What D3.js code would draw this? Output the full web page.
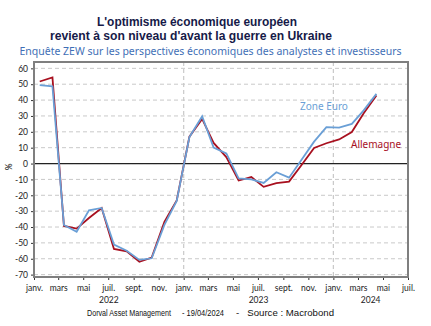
<!DOCTYPE html>
<html>
  <head>
    <meta charset="utf-8">
    <title>ZEW sentiment</title>
    <script src="https://d3js.org/d3.v7.min.js"></script>
    <style>
      body { margin: 0; background: #fff; }
      .axis text { font-family: Lato, "Open Sans", sans-serif; font-size: 8.5px; fill: #222; }
      .title { font-family: "Liberation Sans", Arial, sans-serif; font-weight: bold; font-size: 13.5px; fill: #161a48; }
      .subtitle { font-family: "Noto Sans", sans-serif; font-size: 10px; fill: #3f6fb6; }
      .foot { font-family: "Liberation Sans Narrow", "Arial Narrow", sans-serif; font-size: 8.5px; fill: #111; }
      .lbl { font-family: "Noto Sans", sans-serif; font-size: 10px; }
    </style>
  </head>
  <body>
    <svg width="431" height="326"></svg>
    <script>
      // monthly ZEW economic sentiment, janv. 2022 -> avr. 2024
      var months = d3.range(28).map(function(i) { return new Date(2022, i, 15); });
      var allemagne = [51.7, 54.3, -39.3, -41.0, -34.3, -28.0, -53.8, -55.3, -61.9, -59.2, -36.7, -23.3,
                       16.9, 28.1, 13.0, 4.1, -10.7, -8.5, -14.7, -12.3, -11.4, -1.1, 9.8, 12.8,
                       15.2, 19.9, 31.7, 42.9];
      var zoneEuro = [49.4, 48.6, -38.7, -43.0, -29.5, -28.0, -51.1, -54.9, -60.7, -59.7, -38.7, -23.6,
                      16.7, 29.7, 10.0, 6.4, -9.4, -10.0, -12.2, -5.5, -8.9, 2.3, 13.8, 23.0,
                      22.7, 25.0, 33.5, 43.9];
      var yTicks = d3.range(-70, 61, 10);
      var monthNames = ["janv.", "févr.", "mars", "avr.", "mai", "juin", "juil.", "août", "sept.", "oct.", "nov.", "déc."];
      var years = [2022, 2023, 2024];

      var svg = d3.select("svg");
      var pLeft = 34, pRight = 408, pTop = 62, pBottom = 277;

      var x = d3.scaleTime()
          .domain([new Date(2022, 0, 1), new Date(2024, 6, 1)])
          .range([pLeft, pRight]);
      var y = d3.scaleLinear()
          .domain([-71.5, 64])
          .range([pBottom, pTop]);

      // titles
      svg.append("text").attr("class", "title")
          .attr("x", 97).attr("y", 26)
          .attr("textLength", 200).attr("lengthAdjust", "spacingAndGlyphs")
          .text("L'optimisme économique européen");
      svg.append("text").attr("class", "title")
          .attr("x", 50).attr("y", 39.5)
          .attr("textLength", 282).attr("lengthAdjust", "spacingAndGlyphs")
          .text("revient à son niveau d'avant la guerre en Ukraine");
      svg.append("text").attr("class", "subtitle")
          .attr("x", 19.5).attr("y", 55)
          .attr("textLength", 382).attr("lengthAdjust", "spacingAndGlyphs")
          .text("Enquête ZEW sur les perspectives économiques des analystes et investisseurs");

      // grid
      svg.append("g")
          .selectAll("line")
          .data(yTicks)
          .enter().append("line")
          .attr("x1", pLeft).attr("x2", pRight)
          .attr("y1", function(d) { return y(d); })
          .attr("y2", function(d) { return y(d); })
          .attr("stroke", "#c9c9c9")
          .attr("stroke-width", 1)
          .attr("stroke-dasharray", "4,3");
      svg.append("g")
          .selectAll("line")
          .data([new Date(2023, 0, 1), new Date(2024, 0, 1)])
          .enter().append("line")
          .attr("x1", function(d) { return x(d); })
          .attr("x2", function(d) { return x(d); })
          .attr("y1", pTop).attr("y2", pBottom)
          .attr("stroke", "#c9c9c9")
          .attr("stroke-width", 1.2)
          .attr("stroke-dasharray", "4,3");

      // zero line
      svg.append("line")
          .attr("x1", pLeft).attr("x2", pRight)
          .attr("y1", y(0)).attr("y2", y(0))
          .attr("stroke", "#222").attr("stroke-width", 1.2);

      // axes
      var yAxis = svg.append("g")
          .attr("class", "axis")
          .attr("transform", "translate(" + pLeft + ",0)")
          .call(d3.axisLeft(y).tickValues(yTicks).tickSize(3).tickPadding(3)
                .tickFormat(function(d) { return String(d); }));
      yAxis.select(".domain").remove();
      yAxis.selectAll(".tick line").attr("stroke", "#333");

      var xAxis = svg.append("g")
          .attr("class", "axis")
          .attr("transform", "translate(0," + pBottom + ")")
          .call(d3.axisBottom(x).ticks(d3.timeMonth.every(2)).tickSize(3).tickPadding(5)
                .tickFormat(function(d) { return monthNames[d.getMonth()]; }));
      xAxis.select(".domain").remove();
      xAxis.selectAll(".tick line").attr("stroke", "#333");

      svg.append("g")
          .attr("class", "axis")
          .selectAll("text")
          .data(years)
          .enter().append("text")
          .attr("x", function(d) {
            var a = x(new Date(d, 0, 1)), b = x(d3.min([new Date(d + 1, 0, 1), x.domain()[1]]));
            return (a + b) / 2;
          })
          .attr("y", 303)
          .attr("text-anchor", "middle")
          .text(function(d) { return d; });

      // frame
      svg.append("rect")
          .attr("x", pLeft).attr("y", pTop)
          .attr("width", pRight - pLeft).attr("height", pBottom - pTop)
          .attr("fill", "none")
          .attr("stroke", "#7f7f7f").attr("stroke-width", 2);

      // lines
      var line = function(vals) {
        return d3.line()
            .x(function(d, i) { return x(months[i]); })
            .y(function(d) { return y(d); })(vals);
      };
      svg.append("path")
          .attr("d", line(allemagne))
          .attr("fill", "none")
          .attr("stroke", "#a8101f")
          .attr("stroke-width", 1.8);
      svg.append("path")
          .attr("d", line(zoneEuro))
          .attr("fill", "none")
          .attr("stroke", "#6a9fd6")
          .attr("stroke-width", 1.8);

      // labels
      svg.append("text").attr("class", "lbl")
          .attr("x", 300).attr("y", 110).attr("fill", "#6a9fd6")
          .text("Zone Euro");
      svg.append("text").attr("class", "lbl")
          .attr("x", 351).attr("y", 148).attr("fill", "#a8101f")
          .text("Allemagne");

      svg.append("text")
          .attr("transform", "translate(12," + y(-2) + ") rotate(-90)")
          .attr("text-anchor", "middle")
          .style("font-family", "Lato, sans-serif")
          .style("font-size", "8.5px")
          .text("%");

      // footer
      var foot = [
        {t: "Dorval Asset Management", x: 87, w: 84},
        {t: "- 19/04/2024", x: 182, w: 42},
        {t: "-   Source : Macrobond", x: 236, w: 98}
      ];
      svg.append("g")
          .selectAll("text")
          .data(foot)
          .enter().append("text")
          .attr("class", "foot")
          .attr("x", function(d) { return d.x; })
          .attr("y", 316)
          .attr("xml:space", "preserve")
          .attr("textLength", function(d) { return d.w; })
          .attr("lengthAdjust", "spacingAndGlyphs")
          .text(function(d) { return d.t; });
    </script>
  </body>
</html>
